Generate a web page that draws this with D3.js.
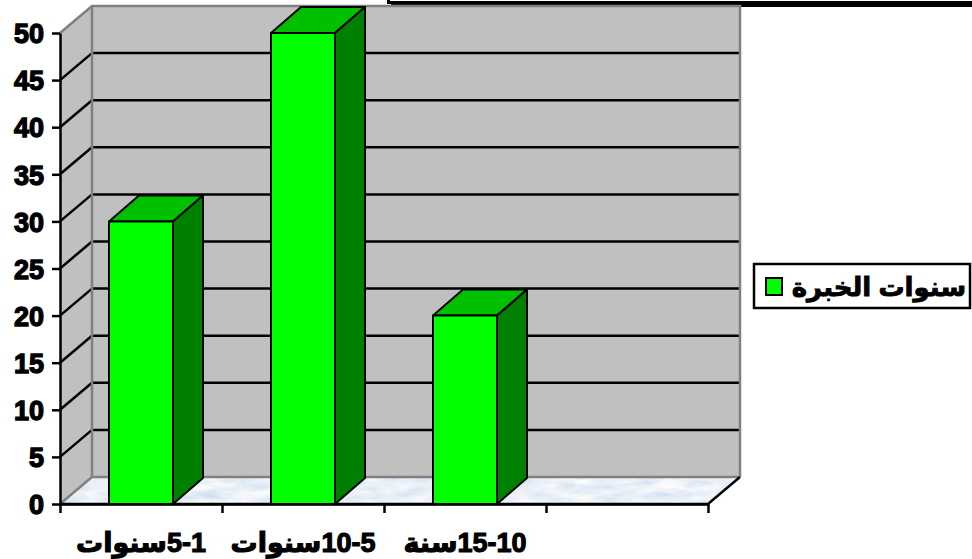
<!DOCTYPE html>
<html>
<head>
<meta charset="utf-8">
<script src="https://cdn.jsdelivr.net/npm/d3@7"></script>
<style>
  html, body { margin: 0; padding: 0; background: #fff; }
  svg { display: block; }
  text { font-family: "Liberation Sans", "DejaVu Sans", Arial, sans-serif; font-weight: bold; }
</style>
</head>
<body>
<svg id="chart" width="972" height="559"></svg>
<script>
// Years of experience distribution
const categories = ["5-1سنوات", "10-5سنوات", "15-10سنة", ""];
const values = [30, 50, 20, null];
const yTicks = [0, 5, 10, 15, 20, 25, 30, 35, 40, 45, 50];
const seriesName = "سنوات الخبرة";

const svg = d3.select("#chart");

// plot geometry (front plane) and depth offset of the back wall
const x0 = 60, x1 = 708;
const yTop = 33, yBot = 504;
const depth = { dx: 32, dy: -27 };
const barDepth = { dx: 30, dy: -26 };

const y = d3.scaleLinear().domain([0, 50]).range([yBot, yTop]);
const xb = d3.scaleBand().domain(d3.range(categories.length)).range([x0, x1]).padding(0);
const xi = d3.scaleLinear().domain([0, categories.length]).range([x0, x1]);
const barW = xb.bandwidth() * 0.395;

const defs = svg.append("defs");
const f = defs.append("filter").attr("id", "marble")
  .attr("x", 0).attr("y", 0).attr("width", 1).attr("height", 1);
f.append("feTurbulence").attr("type", "fractalNoise")
  .attr("baseFrequency", "0.035 0.12").attr("numOctaves", 3).attr("seed", 7).attr("result", "n");
f.append("feColorMatrix").attr("in", "n").attr("type", "matrix")
  .attr("values", "0.55 0 0 0 0.55  0.35 0 0 0 0.70  0.15 0 0 0 0.86  0 0 0 0 1")
  .attr("result", "c");
f.append("feComposite").attr("in", "c").attr("in2", "SourceAlpha").attr("operator", "in");

// title frame along the top edge (box with drop shadow)
svg.append("rect").attr("x", 391).attr("y", -30).attr("width", 600).attr("height", 37).attr("fill", "#000");
svg.append("rect").attr("x", 388.5).attr("y", -30).attr("width", 600).attr("height", 32.5)
  .attr("fill", "#fff").attr("stroke", "#000").attr("stroke-width", 3);

const bx0 = x0 + depth.dx, bx1 = x1 + depth.dx;
const yb = v => y(v) + depth.dy;

// left wall
svg.append("polygon")
  .attr("points", [[x0, y(50)], [bx0, yb(50)], [bx0, yb(0)], [x0, y(0)]].join(" "))
  .attr("fill", "#c0c0c0");
// back wall
svg.append("rect").attr("x", bx0).attr("y", yb(50)).attr("width", bx1 - bx0).attr("height", yb(0) - yb(50))
  .attr("fill", "#c0c0c0");

// floor
svg.append("polygon")
  .attr("points", [[x0, y(0)], [bx0, yb(0)], [bx1, yb(0)], [x1, y(0)]].join(" "))
  .attr("fill", "#dbe9f7").attr("filter", "url(#marble)");

// gridlines on the walls
const grid = svg.append("g").attr("stroke", "#000").attr("stroke-width", 2.5).attr("fill", "none");
yTicks.filter(v => v > 0 && v < 50).forEach(v => {
  grid.append("line").attr("x1", bx0).attr("x2", bx1).attr("y1", yb(v)).attr("y2", yb(v));
  grid.append("line").attr("x1", x0).attr("x2", bx0).attr("y1", y(v)).attr("y2", yb(v));
});

// wall edges
const edge = svg.append("g").attr("stroke", "#808080").attr("stroke-width", 2.5).attr("fill", "none");
edge.append("polyline").attr("points", [[x0, y(50)], [bx0, yb(50)], [bx1, yb(50)], [bx1, yb(0)]].join(" "));
edge.append("polyline").attr("points", [[x0, y(0)], [bx0, yb(0)], [bx1, yb(0)]].join(" "));
edge.append("line").attr("x1", bx0).attr("x2", bx0).attr("y1", yb(50)).attr("y2", yb(0));

// floor front/right edges
svg.append("polyline")
  .attr("points", [[x0, y(0)], [x1, y(0)], [bx1, yb(0)]].join(" "))
  .attr("fill", "none").attr("stroke", "#000").attr("stroke-width", 2.5);

// 3D bars
const bars = svg.append("g").attr("stroke", "#000").attr("stroke-width", 2).attr("stroke-linejoin", "round");
values.forEach((v, i) => {
  if (v == null) return;
  const l = xb(i) + (xb.bandwidth() - barW) / 2, r = l + barW;
  const t = y(v), b = y(0);
  const g = bars.append("g");
  g.append("polygon").attr("fill", "#00c000")
    .attr("points", [[l, t], [l + barDepth.dx, t + barDepth.dy], [r + barDepth.dx, t + barDepth.dy], [r, t]].join(" "));
  g.append("polygon").attr("fill", "#008000")
    .attr("points", [[r, t], [r + barDepth.dx, t + barDepth.dy], [r + barDepth.dx, b + barDepth.dy], [r, b]].join(" "));
  g.append("rect").attr("fill", "#00ff00").attr("x", l).attr("y", t).attr("width", barW).attr("height", b - t);
});

// y axis
const yAxis = svg.append("g").attr("transform", `translate(${x0},0)`)
  .call(d3.axisLeft(y).tickValues(yTicks).tickSize(8).tickSizeOuter(0).tickPadding(8));
yAxis.select(".domain").attr("stroke", "#000").attr("stroke-width", 2.5);
yAxis.selectAll(".tick line").attr("stroke", "#000").attr("stroke-width", 2.5);
yAxis.selectAll(".tick text")
  .attr("fill", "#000").attr("stroke", "#000").attr("stroke-width", 1.3)
  .style("font-size", "27px").attr("dy", "0.36em");

// x axis ticks at category boundaries
const xAxis = svg.append("g").attr("transform", `translate(0,${y(0)})`)
  .call(d3.axisBottom(xi).tickValues(d3.range(categories.length + 1)).tickSize(9).tickSizeOuter(0).tickFormat(""));
xAxis.select(".domain").attr("stroke", "#000").attr("stroke-width", 2.5);
xAxis.selectAll(".tick line").attr("stroke", "#000").attr("stroke-width", 2.5);

// category labels
svg.append("g").selectAll("text").data(categories).join("text")
  .attr("x", (d, i) => xb(i) + xb.bandwidth() / 2)
  .attr("y", 552)
  .attr("direction", "rtl")
  .attr("text-anchor", "middle")
  .attr("fill", "#000").attr("stroke", "#000").attr("stroke-width", 1.1)
  .style("font-size", "27px")
  .text(d => d);

// legend
const lg = svg.append("g");
lg.append("rect").attr("x", 754).attr("y", 264).attr("width", 216).attr("height", 44)
  .attr("fill", "#fff").attr("stroke", "#000").attr("stroke-width", 2.5);
lg.append("rect").attr("x", 766).attr("y", 278).attr("width", 16).attr("height", 17)
  .attr("fill", "#00ff00").attr("stroke", "#000").attr("stroke-width", 2);
lg.append("text").attr("x", 966).attr("y", 296).attr("text-anchor", "end")
  .attr("fill", "#000").attr("stroke", "#000").attr("stroke-width", 0.9)
  .style("font-size", "26px").text(seriesName);
</script>
</body>
</html>
